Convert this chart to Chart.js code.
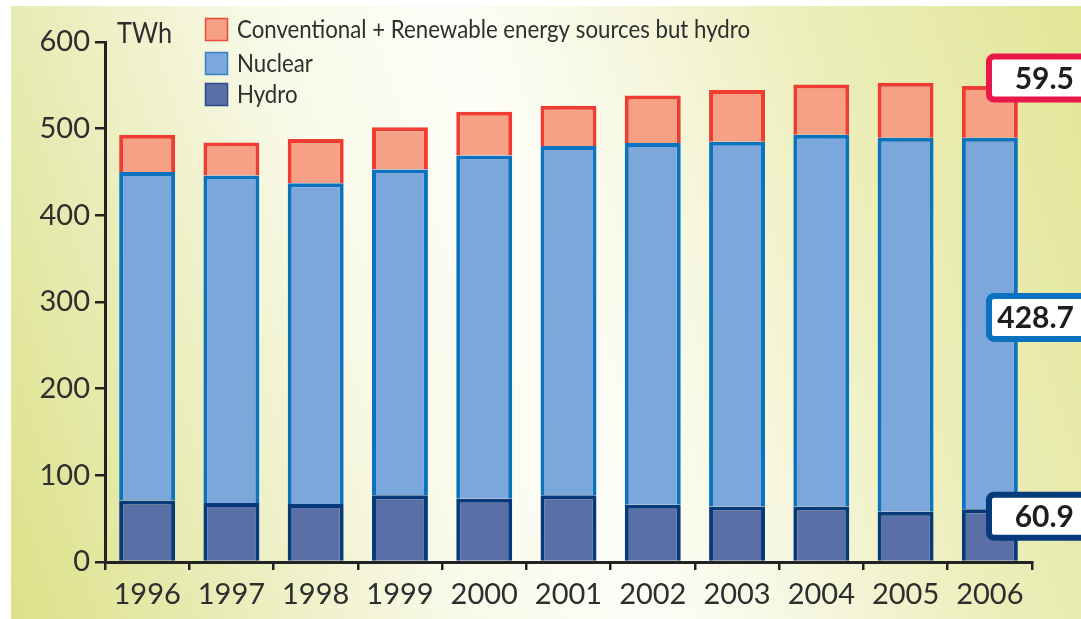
<!DOCTYPE html>
<html>
<head>
<meta charset="utf-8">
<script src="https://cdn.jsdelivr.net/npm/chart.js@4.4.1/dist/chart.umd.min.js"></script>
<style>
  html, body { margin:0; padding:0; background:#ffffff; width:1081px; height:619px; overflow:hidden; }
  #bg { position:absolute; left:11px; top:6px; width:1070px; height:613px;
        background: linear-gradient(72deg, #dce187 0%, #e8ebb4 16%, #f8f9e6 34%, #fdfdf8 50%, #f7f8e2 62%, #eceeba 78%, #e2e697 100%); }
  #c { position:absolute; left:0; top:0; }
</style>
</head>
<body>
<div id="bg"></div>
<canvas id="c" width="1081" height="619"></canvas>
<script>
// ---- data ----
const years = ['1996','1997','1998','1999','2000','2001','2002','2003','2004','2005','2006'];
const hydro = [71, 68, 67, 77, 73, 77, 66, 64, 64, 58, 60.9];
const nuclear = [379, 378, 370, 376, 396, 403, 417.6, 421, 429, 431.5, 428.7];
const conventional = [43, 38, 51, 48.5, 50.4, 46.5, 54.6, 59.7, 58, 63.5, 59.5];
const yTicks = [0, 100, 200, 300, 400, 500, 600];
const seriesNames = ['Conventional + Renewable energy sources but hydro', 'Nuclear', 'Hydro'];
const unitLabel = 'TWh';

const FONT = 'Lato';
const TEXT = '#2e2e2e';

const overlay = {
  id: 'overlay',
  afterDraw(chart) {
    const ctx = chart.ctx;
    const ys = chart.scales.y;
    ctx.save();
    // unit label
    ctx.fillStyle = TEXT;
    ctx.textBaseline = 'alphabetic';
    ctx.textAlign = 'left';
    ctx.font = '29px ' + FONT;
    ctx.fillText(unitLabel, 117, 43, 55);

    // legend
    const items = [
      { name: seriesNames[0], fill: '#f6a086', stroke: '#ee4a3a', y: 18 },
      { name: seriesNames[1], fill: '#7ba7da', stroke: '#3a80c8', y: 52 },
      { name: seriesNames[2], fill: '#5a6fa5', stroke: '#2c4a88', y: 83 }
    ];
    ctx.font = '25px ' + FONT;
    const sx = 513 / ctx.measureText(seriesNames[0]).width;
    items.forEach(it => {
      ctx.fillStyle = it.fill;
      ctx.strokeStyle = it.stroke;
      ctx.lineWidth = 1.5;
      ctx.fillRect(205.5, it.y + 0.5, 22, 22);
      ctx.strokeRect(205.5, it.y + 0.5, 22, 22);
      ctx.fillStyle = TEXT;
      ctx.save();
      ctx.translate(237, it.y + 20);
      ctx.scale(sx, 1);
      ctx.fillText(it.name, 0, 0);
      ctx.restore();
    });

    // value boxes for the last year
    const i = years.length - 1;
    const boxes = [
      { v: conventional[i], cy: ys.getPixelForValue(hydro[i] + nuclear[i] + conventional[i]) - 8, c: '#e8194a' },
      { v: nuclear[i], cy: ys.getPixelForValue(hydro[i] + nuclear[i] / 2) - 6, c: '#0b72c0' },
      { v: hydro[i], cy: ys.getPixelForValue(hydro[i]) + 7, c: '#063a7a' }
    ];
    boxes.forEach(b => {
      const h = 43, x = 989, w = 120;
      ctx.beginPath();
      ctx.roundRect(x, b.cy - h / 2, w, h, 5);
      ctx.fillStyle = '#ffffff';
      ctx.fill();
      ctx.lineWidth = 6;
      ctx.strokeStyle = b.c;
      ctx.stroke();
      ctx.fillStyle = '#1e1e1e';
      ctx.font = 'bold 30px ' + FONT;
      ctx.textAlign = 'right';
      ctx.textBaseline = 'middle';
      ctx.fillText(String(b.v), 1074, b.cy + 1);
    });
    ctx.restore();
  }
};

function build() {
  const common = { barPercentage: 0.664, categoryPercentage: 1, borderWidth: 4, borderSkipped: 'start' };
  new Chart(document.getElementById('c'), {
    type: 'bar',
    data: {
      labels: years,
      datasets: [
        Object.assign({ label: seriesNames[2], data: hydro, backgroundColor: '#5a6fa5', borderColor: '#063a7a' }, common),
        Object.assign({ label: seriesNames[1], data: nuclear, backgroundColor: '#7ba7da', borderColor: '#0b72c0' }, common),
        Object.assign({ label: seriesNames[0], data: conventional, backgroundColor: '#f6a086', borderColor: '#ef3d33' }, common)
      ]
    },
    options: {
      responsive: false,
      animation: false,
      devicePixelRatio: 1,
      layout: { padding: { left: 0, top: 42, right: 49, bottom: 0 } },
      plugins: { legend: { display: false }, tooltip: { enabled: false } },
      scales: {
        x: {
          stacked: true,
          offset: true,
          grid: { offset: true, drawOnChartArea: false, drawTicks: true, tickLength: 8, color: '#222', lineWidth: 2.5 },
          border: { display: true, color: '#222', width: 3 },
          ticks: { color: TEXT, font: { family: FONT, size: 29 }, padding: 7, maxRotation: 0 },
          afterFit(s) { s.height = 57; }
        },
        y: {
          stacked: true,
          min: 0, max: 600,
          afterBuildTicks(s) { s.ticks = yTicks.map(v => ({ value: v })); },
          grid: { drawOnChartArea: false, drawTicks: true, tickLength: 10, color: '#222', lineWidth: 2.5 },
          border: { display: true, color: '#222', width: 3 },
          ticks: { color: TEXT, font: { family: FONT, size: 29 }, padding: 5 },
          afterFit(s) { s.width = 105; }
        }
      }
    },
    plugins: [overlay]
  });
}
if (document.fonts && document.fonts.load) {
  Promise.all([document.fonts.load('29px Lato'), document.fonts.load('bold 30px Lato')]).then(build, build);
} else { build(); }
</script>
</body>
</html>
